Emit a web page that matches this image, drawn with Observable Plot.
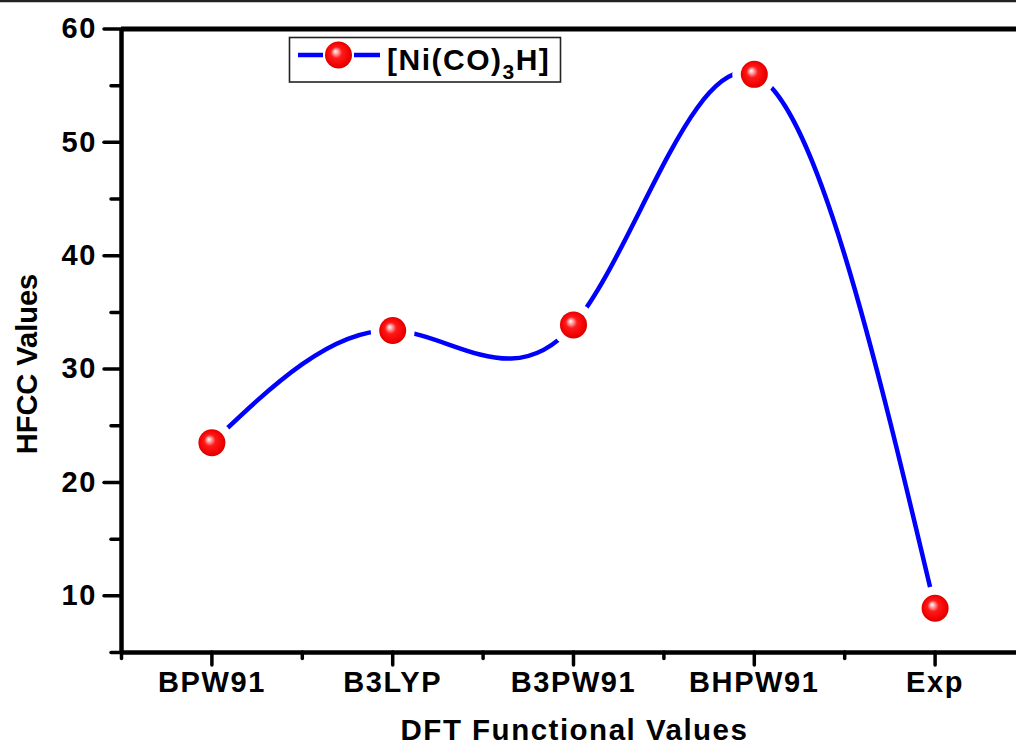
<!DOCTYPE html>
<html>
<head>
<meta charset="utf-8">
<script src="https://cdn.jsdelivr.net/npm/d3@7"></script>
<script src="https://cdn.jsdelivr.net/npm/@observablehq/plot@0.6"></script>
<style>
  html, body { margin: 0; padding: 0; background: #fff; }
  #chart { width: 1016px; height: 747px; }
</style>
</head>
<body>
<div id="chart"></div>
<script>
// ---- data ----
const categories = ["BPW91", "B3LYP", "B3PW91", "BHPW91", "Exp"];
const hfcc = [23.5, 33.4, 33.9, 56.0, 8.9];
const yMajorTicks = [10, 20, 30, 40, 50, 60];
const yMinorTicks = [5, 15, 25, 35, 45, 55];
const xMinorTicks = [0.5, 1.5, 2.5, 3.5, 4.5];
const seriesMain = "[Ni(CO)";
const seriesSub = "3";
const seriesEnd = "H]";
const xTitle = "DFT Functional Values";
const yTitle = "HFCC Values";

const data = categories.map((name, i) => ({pos: i + 1, name, value: hfcc[i]}));
const xPositions = categories.map((_, i) => i + 1);

const FONT = "'Liberation Sans', Arial, Helvetica, sans-serif";

function decorations() {
  const g = d3.create("svg:g");
  const defs = g.append("defs");
  const grad = defs.append("radialGradient")
    .attr("id", "ball").attr("cx", "0.5").attr("cy", "0.5").attr("r", "0.55")
    .attr("fx", "0.38").attr("fy", "0.36");
  [["0%", "#ffffff"], ["14%", "#ffb0b0"], ["38%", "#ff1a1a"], ["80%", "#f00000"], ["100%", "#c40000"]]
    .forEach(([o, c]) => grad.append("stop").attr("offset", o).attr("stop-color", c));
  // thin page line at the very top
  g.append("line").attr("x1", 0).attr("x2", 1016).attr("y1", 1.2).attr("y2", 1.2)
    .attr("stroke", "#222").attr("stroke-width", 2.2);
  // axis titles
  g.append("text").attr("x", 574.5).attr("y", 740)
    .attr("text-anchor", "middle").attr("font-family", FONT).attr("font-weight", "bold")
    .attr("font-size", 29.5).attr("letter-spacing", "1.5px").attr("fill", "#000").text(xTitle);
  g.append("text").attr("transform", "translate(37,364) rotate(-90)")
    .attr("text-anchor", "middle").attr("font-family", FONT).attr("font-weight", "bold")
    .attr("font-size", 29).attr("letter-spacing", "0px").attr("fill", "#000").text(yTitle);
  // legend
  const lg = g.append("g");
  lg.append("rect").attr("x", 289.5).attr("y", 37.5).attr("width", 271).attr("height", 44.5)
    .attr("fill", "white").attr("stroke", "#222").attr("stroke-width", 1.6);
  lg.append("line").attr("x1", 298).attr("x2", 323).attr("y1", 55).attr("y2", 55)
    .attr("stroke", "#0000ff").attr("stroke-width", 4.5);
  lg.append("line").attr("x1", 354).attr("x2", 380).attr("y1", 55).attr("y2", 55)
    .attr("stroke", "#0000ff").attr("stroke-width", 4.5);
  lg.append("circle").attr("cx", 338.5).attr("cy", 55).attr("r", 13.5).attr("fill", "url(#ball)");
  const t = lg.append("text").attr("x", 387).attr("y", 70)
    .attr("text-anchor", "start")
    .attr("font-family", FONT).attr("font-weight", "bold").attr("font-size", 30)
    .attr("letter-spacing", "1.5px").attr("fill", "#000");
  t.append("tspan").text(seriesMain);
  t.append("tspan").attr("font-size", 21).attr("dy", 9).text(seriesSub);
  t.append("tspan").attr("dy", -9).text(seriesEnd);
  return g.node();
}

const chart = Plot.plot({
  width: 1016,
  height: 747,
  marginLeft: 121,
  marginRight: -9,
  marginTop: 28.5,
  marginBottom: 95,
  x: {type: "linear", domain: [0.5, 5.5], label: null},
  y: {type: "linear", domain: [5, 60], label: null},
  style: {
    fontFamily: FONT,
    fontWeight: "bold",
    fontSize: "29px",
    color: "#000",
    background: "white",
    letterSpacing: "1.6px"
  },
  marks: [
    // frame lines
    Plot.ruleY([60], {stroke: "#000", strokeWidth: 5}),
    Plot.ruleY([5], {stroke: "#000", strokeWidth: 4.5}),
    Plot.ruleX([0.5], {stroke: "#000", strokeWidth: 4.5}),
    // axes
    Plot.axisY(yMajorTicks, {tickSize: 17, tickPadding: 7.5, strokeWidth: 3.5, strokeLinecap: "round", label: null, fontSize: 29, fontWeight: "bold"}),
    Plot.axisY(yMinorTicks, {tickSize: 10, strokeWidth: 3.5, strokeLinecap: "round", tickFormat: () => "", label: null}),
    Plot.axisX(xPositions, {tickSize: 13, tickPadding: 6, strokeWidth: 3.5, strokeLinecap: "round", tickFormat: d => categories[d - 1], label: null, fontSize: 29, fontWeight: "bold"}),
    Plot.axisX(xMinorTicks, {tickSize: 6.5, strokeWidth: 3.5, strokeLinecap: "round", tickFormat: () => "", label: null}),
    // data
    Plot.line(data, {x: "pos", y: "value", curve: "natural", stroke: "#0000ff", strokeWidth: 4.5}),
    Plot.dot(data, {x: "pos", y: "value", r: 22, fill: "white", stroke: null}),
    Plot.dot(data, {x: "pos", y: "value", r: 13.5, fill: "url(#ball)", stroke: null}),
    decorations
  ]
});

document.getElementById("chart").appendChild(chart);
</script>
</body>
</html>
